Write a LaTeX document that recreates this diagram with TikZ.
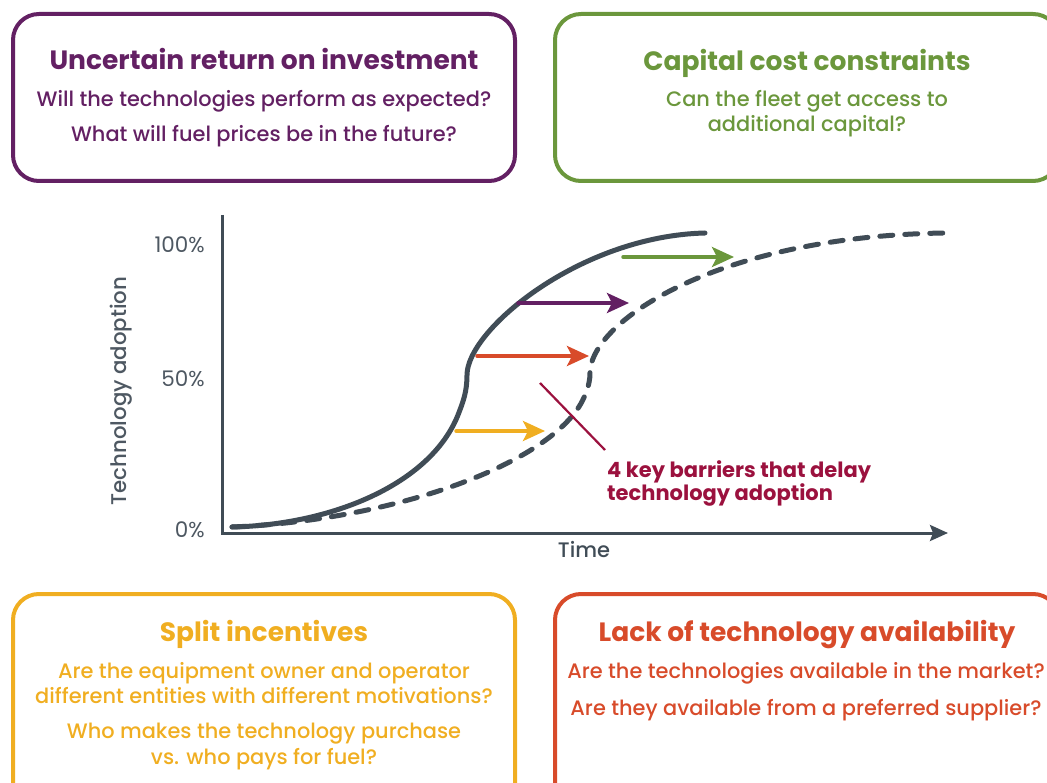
\documentclass[tikz,border=0pt]{standalone}
\usepackage{fontspec}
\setmainfont{Poppins}
\newfontfamily\medfont{Poppins Medium}
\usetikzlibrary{arrows.meta}

\definecolor{plum}{RGB}{99,32,99}
\definecolor{leaf}{RGB}{107,151,60}
\definecolor{amber}{RGB}{240,174,33}
\definecolor{brick}{RGB}{216,75,42}
\definecolor{crimson}{RGB}{155,17,62}
\definecolor{slate}{RGB}{64,76,86}
\definecolor{axisgrey}{RGB}{78,88,98}

\tikzset{
  boxframe/.style={line width=4pt, rounded corners=26pt},
  headtext/.style={anchor=base, inner sep=0pt, font=\fontsize{26.5}{30}\selectfont\bfseries},
  bodytext/.style={anchor=base, inner sep=0pt, font=\medfont\fontsize{20.9}{25}\selectfont},
  ticktext/.style={anchor=base east, inner sep=0pt, text=axisgrey, font=\fontsize{21.5}{24}\selectfont},
  axisline/.style={slate, line width=3pt},
  curve/.style={slate, line width=5pt, line cap=round},
  delay/.style={line width=3.5pt, line cap=round, -{Stealth[length=22pt,width=20pt,inset=5pt]}},
  notetext/.style={anchor=base west, inner sep=0pt, text=crimson, font=\fontsize{21}{24}\selectfont\bfseries}
}

\begin{document}
\begin{tikzpicture}[x=1pt,y=-1pt]
\useasboundingbox (0,0) rectangle (1047,783);

% ---- the four barrier boxes (right and bottom ones run off the page) ----
\begin{scope}
  \clip (0,0) rectangle (1047,783);
  \draw[boxframe, plum]  (13,14)  rectangle (515,181);
  \draw[boxframe, leaf]  (555,14) rectangle (1059,181);
  \draw[boxframe, amber] (13,594) rectangle (515,820);
  \draw[boxframe, brick] (555,594) rectangle (1059,820);
\end{scope}

% ---- box texts ----
\node[headtext, text=plum] (roiT) at (264,70) {Uncertain return on investment};
\node[bodytext, text=plum] (roiA) at (264,107) {Will the technologies perform as expected?};
\node[bodytext, text=plum] (roiB) at (264,142) {What will fuel prices be in the future?};

\node[headtext, text=leaf] (capT) at (807,71) {Capital cost constraints};
\node[bodytext, text=leaf] (capA) at (807,107) {Can the fleet get access to};
\node[bodytext, text=leaf] (capB) at (807,132) {additional capital?};

\node[headtext, text=amber] (splT) at (264,641) {Split incentives};
\node[bodytext, text=amber] (splA) at (264,678) {Are the equipment owner and operator};
\node[bodytext, text=amber] (splB) at (264,703) {different entities with different motivations?};
\node[bodytext, text=amber] (splC) at (264,738) {Who makes the technology purchase};
\node[bodytext, text=amber] (splD) at (264,764) {vs. who pays for fuel?};

\node[headtext, text=brick] (avlT) at (807,641) {Lack of technology availability};
\node[bodytext, text=brick] (avlA) at (806,678) {Are the technologies available in the market?};
\node[bodytext, text=brick] (avlB) at (806,715) {Are they available from a preferred supplier?};

% ---- chart axes ----
\coordinate (origin) at (222,533);
\coordinate (ytop) at (222,215);
\coordinate (xend) at (948,533);
\draw[axisline, line cap=butt] (ytop) -- (origin) -- ([xshift=-4pt]xend);
\draw[axisline, -{Stealth[length=18pt,width=16pt,inset=3pt]}] ([xshift=-10pt]xend) -- (xend);

\node[ticktext] (t100) at (205,253) {100\%};
\node[ticktext] (t50)  at (205,387) {50\%};
\node[ticktext] (t0)   at (205,537) {0\%};
\node[anchor=base, inner sep=0pt, rotate=90, text=axisgrey, font=\medfont\fontsize{21.3}{24}\selectfont] (ylab) at (126,391) {Technology adoption};
\node[anchor=base, inner sep=0pt, text=slate, font=\medfont\fontsize{21}{24}\selectfont] (xlab) at (584,557) {Time};

% ---- adoption curves: expected (solid) and delayed (dashed) ----
\draw[curve] (232,527) .. controls (330,525) and (430,485) .. (458,415)
  .. controls (463,402) and (467,392) .. (467,375)
  .. controls (467,330) and (580,236) .. (705,233);
\draw[curve, dash pattern=on 13pt off 12pt] (232,527) .. controls (400,520) and (560,460) .. (585,395)
  .. controls (589,385) and (590,380) .. (590,372)
  .. controls (592,320) and (720,236) .. (945,233);

% ---- delay arrows, one per barrier ----
\coordinate (g0) at (623,257); \coordinate (g1) at (734,257);
\coordinate (p0) at (518,303); \coordinate (p1) at (629,303);
\coordinate (r0) at (477,356); \coordinate (r1) at (589,356);
\coordinate (y0) at (456,431); \coordinate (y1) at (545,431);
\draw[delay, leaf]  (g0) -- (g1);
\draw[delay, plum]  (p0) -- (p1);
\draw[delay, brick] (r0) -- (r1);
\draw[delay, amber] (y0) -- (y1);

% ---- callout ----
\coordinate (c0) at (540,383);
\coordinate (c1) at (605,450);
\draw[crimson, line width=2.2pt] (c0) -- (c1);
\node[notetext] (noteA) at (607,477) {4 key barriers that delay};
\node[notetext] (noteB) at (607,500) {technology adoption};
\end{tikzpicture}
\end{document}
